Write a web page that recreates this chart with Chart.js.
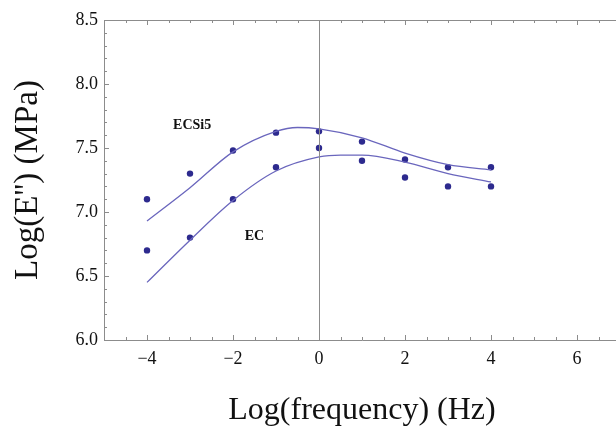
<!DOCTYPE html>
<html>
<head>
<meta charset="utf-8">
<script src="https://cdn.jsdelivr.net/npm/chart.js@4/dist/chart.umd.min.js"></script>
<style>
html,body{margin:0;padding:0;background:#fff;overflow:hidden;}
#wrap{width:640px;height:433px;}
</style>
</head>
<body>
<div id="wrap"><canvas id="c" width="640" height="433"></canvas></div>
<script>
// Measured points
const freqPoints = [-4, -3, -2, -1, 0, 1, 2, 3, 4];
const ecsi5Points = [7.10, 7.30, 7.48, 7.62, 7.63, 7.55, 7.41, 7.35, 7.35];
const ecPoints = [6.70, 6.80, 7.10, 7.35, 7.50, 7.40, 7.27, 7.20, 7.20];
// Fitted curves
const ecsi5CurveX = [-4, -3, -2, -1, -0.5, 0, 1, 2, 3, 4];
const ecsi5CurveY = [6.93, 7.19, 7.47, 7.63, 7.66, 7.65, 7.58, 7.46, 7.37, 7.33];
const ecCurveX = [-4, -3, -2, -1, 0, 0.5, 1, 2, 3, 4];
const ecCurveY = [6.45, 6.78, 7.09, 7.32, 7.43, 7.445, 7.445, 7.39, 7.30, 7.235];
// Axis ticks
const xTickLabels = [-4, -2, 0, 2, 4, 6];
const yTickLabels = [6.0, 6.5, 7.0, 7.5, 8.0, 8.5];
const seriesLabels = ['ECSi5', 'EC'];

const toXY = (xs, ys) => xs.map((x, i) => ({x: x, y: ys[i]}));
const lineColor = '#6a66bd';
const pointColor = '#2d2a8e';
const frameColor = '#8c8c8c';
const serif = '"Liberation Serif", "DejaVu Serif", serif';

const framePlugin = {
  id: 'frame',
  afterDatasetsDraw(chart) {
    const {ctx, chartArea: a, scales: {x, y}} = chart;
    ctx.save();
    ctx.strokeStyle = frameColor;
    ctx.lineWidth = 1;
    ctx.beginPath();
    ctx.moveTo(a.left + 0.5, a.top + 0.5);
    ctx.lineTo(a.left + 0.5, a.bottom + 0.5);
    ctx.lineTo(a.right, a.bottom + 0.5);
    ctx.moveTo(a.left + 0.5, a.top + 0.5);
    ctx.lineTo(a.right, a.top + 0.5);
    ctx.lineTo(a.right, a.bottom);
    // x = 0 line
    const x0 = Math.round(x.getPixelForValue(0)) + 0.5;
    ctx.moveTo(x0, a.top);
    ctx.lineTo(x0, a.bottom);
    ctx.stroke();
    // x ticks
    ctx.beginPath();
    for (let v = -5; v <= 7.001; v += 0.5) {
      const px = Math.round(x.getPixelForValue(v)) + 0.5;
      const major = Math.abs(v % 2) < 1e-6;
      const len = major ? 5 : 3;
      ctx.moveTo(px, a.bottom); ctx.lineTo(px, a.bottom - len);
      ctx.moveTo(px, a.top); ctx.lineTo(px, a.top + len);
    }
    // y ticks
    for (let i = 0; i <= 25; i++) {
      const v = 6 + i * 0.1;
      const py = Math.round(y.getPixelForValue(v)) + 0.5;
      const major = i % 5 === 0;
      const len = major ? 5 : 3;
      ctx.moveTo(a.left, py); ctx.lineTo(a.left + len, py);
    }
    ctx.stroke();
    // series labels
    ctx.fillStyle = '#111';
    ctx.font = 'bold 14px ' + serif;
    ctx.textAlign = 'center';
    ctx.textBaseline = 'middle';
    ctx.fillText(seriesLabels[0], x.getPixelForValue(-2.95), y.getPixelForValue(7.68));
    ctx.fillText(seriesLabels[1], x.getPixelForValue(-1.5), y.getPixelForValue(6.81));
    ctx.restore();
  }
};

new Chart(document.getElementById('c'), {
  type: 'scatter',
  data: {
    datasets: [
      {label: 'ECSi5 fit', data: toXY(ecsi5CurveX, ecsi5CurveY), showLine: true, pointRadius: 0,
       borderColor: lineColor, borderWidth: 1.3, cubicInterpolationMode: 'monotone', fill: false},
      {label: 'EC fit', data: toXY(ecCurveX, ecCurveY), showLine: true, pointRadius: 0,
       borderColor: lineColor, borderWidth: 1.3, cubicInterpolationMode: 'monotone', fill: false},
      {label: 'ECSi5', data: toXY(freqPoints, ecsi5Points), showLine: false, pointRadius: 3.2,
       backgroundColor: pointColor, borderColor: pointColor, borderWidth: 0},
      {label: 'EC', data: toXY(freqPoints, ecPoints), showLine: false, pointRadius: 3.2,
       backgroundColor: pointColor, borderColor: pointColor, borderWidth: 0}
    ]
  },
  options: {
    responsive: false,
    animation: false,
    layout: {padding: {left: 0, right: 20, top: 20, bottom: 0}},
    plugins: {legend: {display: false}, tooltip: {enabled: false}},
    scales: {
      x: {
        type: 'linear', min: -5, max: 7,
        grid: {display: false, drawTicks: false},
        border: {display: false},
        afterBuildTicks: s => { s.ticks = xTickLabels.map(v => ({value: v})); },
        afterFit: s => { s.height = 93; },
        ticks: {
          color: '#111', padding: 8,
          font: {family: serif, size: 18},
          callback: v => (v < 0 ? '\u2212' + Math.abs(v) : String(v))
        },
        title: {
          display: true, text: 'Log(frequency) (Hz)', color: '#111',
          font: {family: serif, size: 32},
          padding: {top: 0, bottom: 3}
        }
      },
      y: {
        type: 'linear', min: 6, max: 8.5,
        grid: {display: false, drawTicks: false},
        border: {display: false},
        afterBuildTicks: s => { s.ticks = yTickLabels.map(v => ({value: v})); },
        afterFit: s => { s.width = 104; },
        ticks: {
          color: '#111', padding: 6,
          font: {family: serif, size: 18},
          callback: v => Number(v).toFixed(1)
        },
        title: {
          display: true, text: "Log(E'') (MPa)", color: '#111',
          font: {family: serif, size: 33},
          padding: {top: 9, bottom: 0}
        }
      }
    }
  },
  plugins: [framePlugin]
});
</script>
</body>
</html>
